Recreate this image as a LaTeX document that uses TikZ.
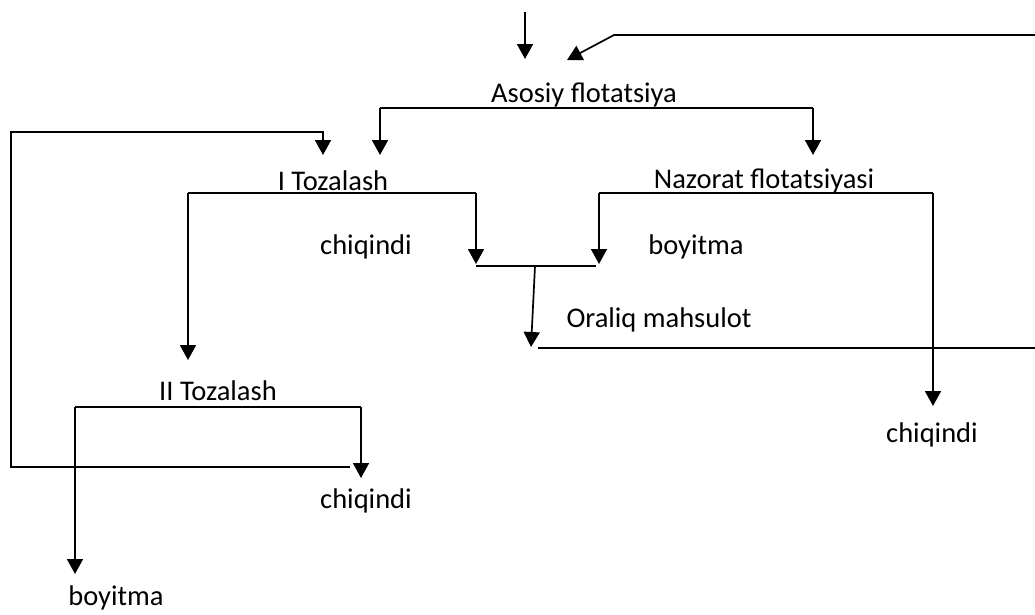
\documentclass[tikz,border=0pt]{standalone}
\usepackage{fontspec}
\setmainfont{Carlito}
\usetikzlibrary{arrows.meta}
\tikzset{
  lbl/.style={anchor=base, inner sep=0pt, font=\fontsize{28.5}{34}\selectfont},
  ln/.style={line width=1.7pt, line join=miter},
  arr/.style={ln, -{Triangle[width=16pt,length=15pt]}},
}
\begin{document}
\begin{tikzpicture}[x=1pt,y=-1pt]
\useasboundingbox (0,0) rectangle (1035,614);
% labels
\node[lbl] (asosiy) at (584,102) {Asosiy flotatsiya};
\node[lbl] (tozI) at (333,190) {I Tozalash};
\node[lbl] (nazorat) at (764,188) {Nazorat flotatsiyasi};
\node[lbl] (chiq1) at (366,254) {chiqindi};
\node[lbl] (boy1) at (696,254) {boyitma};
\node[lbl] (oraliq) at (659,327) {Oraliq mahsulot};
\node[lbl] (tozII) at (218,400) {II Tozalash};
\node[lbl] (chiq2) at (366,508) {chiqindi};
\node[lbl] (chiq3) at (932,442) {chiqindi};
\node[lbl] (boy2) at (116,605) {boyitma};
% coordinates
\coordinate (feedTop) at (525,12);
\coordinate (feedTip) at (525,59);
\coordinate (recR) at (1035,35);
\coordinate (recL) at (614,35);
\coordinate (recTip) at (567,60);
\coordinate (aL) at (380,108);
\coordinate (aR) at (813,108);
\coordinate (aLtip) at (380,155);
\coordinate (aRtip) at (813,155);
\coordinate (loopTR) at (323,132);
\coordinate (loopTL) at (11,132);
\coordinate (loopBL) at (11,467);
\coordinate (loopBR) at (350,467);
\coordinate (loopTip) at (323,155);
\coordinate (tL) at (188,193);
\coordinate (tR) at (476,193);
\coordinate (tLtip) at (188,360);
\coordinate (tRtip) at (476,264);
\coordinate (nL) at (599,193);
\coordinate (nR) at (933,193);
\coordinate (nLtip) at (599,264);
\coordinate (nRtip) at (933,406);
\coordinate (mL) at (476,266);
\coordinate (mR) at (596,266);
\coordinate (mS) at (535,266);
\coordinate (mTip) at (531,347);
\coordinate (oL) at (538,348);
\coordinate (oR) at (1035,348);
\coordinate (iiL) at (75,407);
\coordinate (iiR) at (361,407);
\coordinate (iiRtip) at (361,478);
\coordinate (iiLtip) at (75,574);
% connectors
\draw[arr] (feedTop) -- (feedTip);
\draw[arr] (recR) -- (recL) -- (recTip);
\draw[ln] (aL) -- (aR);
\draw[arr] (aL) -- (aLtip);
\draw[arr] (aR) -- (aRtip);
\draw[arr] (loopBR) -- (loopBL) -- (loopTL) -- (loopTR) -- (loopTip);
\draw[ln] (tL) -- (tR);
\draw[arr] (tL) -- (tLtip);
\draw[arr] (tR) -- (tRtip);
\draw[ln] (nL) -- (nR);
\draw[arr] (nL) -- (nLtip);
\draw[arr] (nR) -- (nRtip);
\draw[ln] (mL) -- (mR);
\draw[arr] (mS) -- (mTip);
\draw[ln] (oL) -- (oR);
\draw[ln] (iiL) -- (iiR);
\draw[arr] (iiR) -- (iiRtip);
\draw[arr] (iiL) -- (iiLtip);
\end{tikzpicture}
\end{document}
